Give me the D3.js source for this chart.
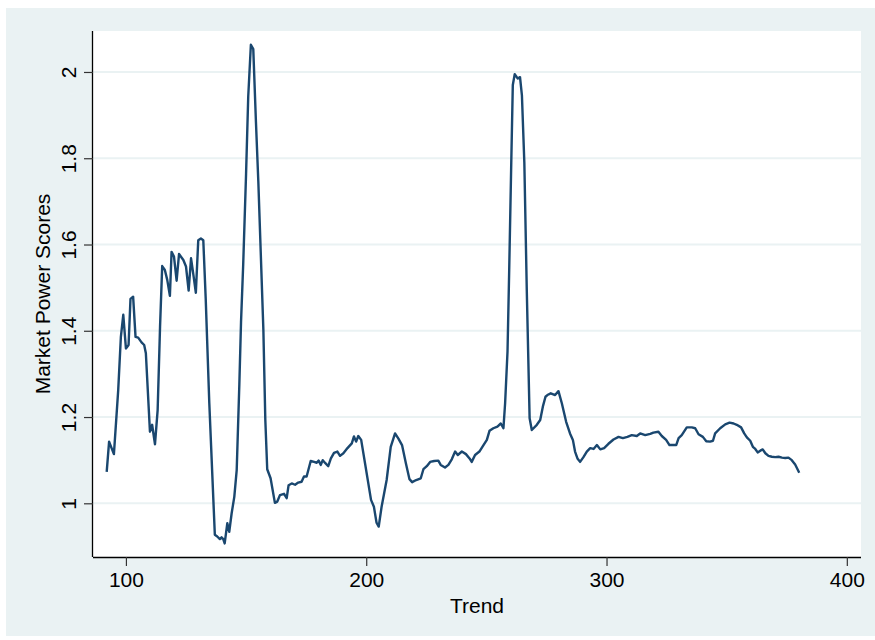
<!DOCTYPE html>
<html>
<head>
<meta charset="utf-8">
<script src="https://cdn.jsdelivr.net/npm/d3@7"></script>
<style>
  html, body { margin: 0; padding: 0; background: #ffffff; }
  svg { display: block; }
  text { font-family: "Liberation Sans", Arial, Helvetica, sans-serif; fill: #000; }
</style>
</head>
<body>
<svg id="chart" width="875" height="640"></svg>
<script>
// Trend values (x) and market power scores (y)
const trend = [
  92.0, 93.0, 95.0, 96.8, 97.9, 98.9, 100.0, 101.1, 101.9, 103.0,
  104.0, 105.1, 106.5, 107.6, 108.3, 110.0, 110.9, 112.1, 113.2, 114.2,
  115.1, 116.2, 117.2, 118.3, 119.0, 120.0, 121.1, 122.1, 123.9, 125.0,
  126.1, 127.1, 128.2, 129.1, 130.1, 131.2, 132.2, 133.2, 134.7, 137.0,
  138.0, 139.1, 139.8, 140.5, 141.1, 142.2, 143.0, 144.0, 145.1, 146.1,
  147.2, 147.9, 148.8, 150.0, 150.9, 152.0, 153.0, 154.1, 155.1, 157.2,
  158.0, 158.8, 160.2, 162.0, 163.0, 164.1, 165.8, 166.9, 167.7, 169.0,
  170.4, 171.7, 173.1, 174.1, 175.2, 176.9, 178.3, 179.4, 180.2, 181.1,
  181.9, 183.0, 184.2, 185.3, 186.6, 188.0, 189.1, 190.5, 192.2, 194.0,
  194.9, 195.8, 196.7, 197.9, 199.5, 202.0, 203.2, 204.3, 205.2, 206.4,
  208.5, 210.2, 212.0, 213.4, 214.9, 216.5, 218.0, 219.1, 220.8, 222.7,
  223.8, 225.2, 226.6, 228.3, 230.0, 231.0, 232.8, 234.2, 235.6, 237.0,
  238.1, 239.8, 241.5, 243.0, 243.9, 245.3, 247.1, 248.8, 250.2, 251.3,
  252.9, 254.6, 256.0, 257.1, 257.8, 258.8, 259.5, 260.3, 261.0, 261.8,
  263.0, 264.0, 264.8, 265.8, 266.8, 268.0, 268.9, 271.0, 272.4, 273.5,
  274.6, 275.4, 276.8, 278.6, 280.0, 281.4, 283.2, 284.8, 286.0, 286.9,
  287.9, 289.0, 290.4, 291.8, 293.2, 294.6, 296.0, 297.4, 299.0, 300.8,
  302.9, 305.0, 306.8, 308.7, 310.5, 312.6, 314.0, 316.1, 318.2, 319.5,
  321.6, 323.0, 324.8, 326.2, 327.2, 329.0, 330.0, 331.3, 333.4, 335.5,
  336.9, 338.3, 340.1, 341.5, 343.1, 344.3, 345.2, 347.3, 349.4, 351.2,
  352.9, 354.2, 356.0, 357.3, 358.4, 359.8, 360.9, 361.9, 362.9, 364.0,
  365.0, 366.1, 367.4, 368.8, 370.2, 371.6, 373.0, 374.4, 375.7, 377.1,
  378.5, 380.2
];
const score = [
  1.073, 1.143, 1.114, 1.263, 1.386, 1.437, 1.359, 1.367, 1.474, 1.479,
  1.386, 1.384, 1.373, 1.367, 1.348, 1.166, 1.182, 1.137, 1.216, 1.409,
  1.550, 1.541, 1.518, 1.481, 1.583, 1.572, 1.516, 1.578, 1.564, 1.549,
  1.493, 1.568, 1.525, 1.488, 1.610, 1.614, 1.610, 1.475, 1.232, 0.927,
  0.923, 0.917, 0.921, 0.917, 0.907, 0.954, 0.934, 0.977, 1.015, 1.077,
  1.276, 1.420, 1.553, 1.764, 1.943, 2.063, 2.053, 1.885, 1.746, 1.402,
  1.195, 1.079, 1.058, 1.001, 1.004, 1.019, 1.022, 1.012, 1.042, 1.046,
  1.043, 1.048, 1.050, 1.062, 1.062, 1.098, 1.096, 1.094, 1.099, 1.089,
  1.100, 1.093, 1.086, 1.104, 1.117, 1.120, 1.110, 1.116, 1.128, 1.139,
  1.155, 1.143, 1.156, 1.147, 1.093, 1.008, 0.992, 0.955, 0.946, 0.992,
  1.054, 1.131, 1.162, 1.150, 1.135, 1.093, 1.056, 1.049, 1.054, 1.058,
  1.079, 1.086, 1.096, 1.098, 1.099, 1.089, 1.083, 1.089, 1.102, 1.120,
  1.112, 1.120, 1.114, 1.104, 1.096, 1.112, 1.120, 1.135, 1.147, 1.168,
  1.174, 1.178, 1.185, 1.174, 1.232, 1.352, 1.541, 1.773, 1.970, 1.995,
  1.985, 1.988, 1.945, 1.790, 1.498, 1.197, 1.170, 1.182, 1.193, 1.224,
  1.247, 1.251, 1.255, 1.251, 1.260, 1.232, 1.189, 1.162, 1.147, 1.120,
  1.104, 1.096, 1.107, 1.120, 1.128, 1.126, 1.135, 1.125, 1.128, 1.138,
  1.148, 1.154, 1.151, 1.154, 1.158, 1.156, 1.162, 1.158, 1.161, 1.164,
  1.166, 1.156, 1.147, 1.135, 1.135, 1.135, 1.151, 1.158, 1.176, 1.176,
  1.174, 1.160, 1.154, 1.144, 1.143, 1.145, 1.162, 1.174, 1.183, 1.187,
  1.185, 1.182, 1.176, 1.162, 1.153, 1.145, 1.131, 1.126, 1.118, 1.122,
  1.125, 1.116, 1.110, 1.108, 1.107, 1.108, 1.106, 1.105, 1.106, 1.100,
  1.090, 1.071
];
const xTicks = [100, 200, 300, 400];
const yTicks = [1, 1.2, 1.4, 1.6, 1.8, 2];
const xTitle = "Trend";
const yTitle = "Market Power Scores";

const svg = d3.select("#chart");
const W = 875, H = 640;
const plot = { left: 93, right: 861, top: 31, bottom: 557 };

// Outer graph region
svg.append("rect").attr("x", 6).attr("y", 8).attr("width", W - 6).attr("height", H - 12)
  .attr("fill", "#eaf2f3");
// Plot region
svg.append("rect").attr("x", plot.left).attr("y", plot.top)
  .attr("width", plot.right - plot.left).attr("height", plot.bottom - plot.top)
  .attr("fill", "#ffffff");

const x = d3.scaleLinear().domain([86.3, 405.9]).range([plot.left, plot.right]);
const y = d3.scaleLinear().domain([0.8755, 2.095]).range([plot.bottom, plot.top]);

// Horizontal grid
svg.append("g").selectAll("line").data(yTicks).join("line")
  .attr("x1", plot.left).attr("x2", plot.right)
  .attr("y1", d => y(d)).attr("y2", d => y(d))
  .attr("stroke", "#eaf2f3").attr("stroke-width", 2);

// Series line
const pts = trend.map((t, i) => [t, score[i]]);
svg.append("path").datum(pts)
  .attr("fill", "none").attr("stroke", "#1a476f").attr("stroke-width", 2.4)
  .attr("stroke-linejoin", "round")
  .attr("d", d3.line().x(d => x(d[0])).y(d => y(d[1])));

// Axes
const fmtY = d => d3.format("~g")(d);
const xAxis = d3.axisBottom(x).tickValues(xTicks).tickSize(9).tickPadding(6).tickFormat(d3.format("d"));
const gx = svg.append("g").attr("transform", `translate(0,${plot.bottom})`).call(xAxis);
gx.select(".domain").attr("d", `M${plot.left},0.5H${plot.right}`).attr("stroke", "#000").attr("stroke-width", 1.3);
gx.selectAll(".tick line").attr("stroke", "#333").attr("stroke-width", 1.2);
gx.selectAll(".tick text").attr("font-size", 21).attr("font-family", "Liberation Sans, Arial, sans-serif").attr("fill", "#000");

const yAxis = d3.axisLeft(y).tickValues(yTicks).tickSize(9).tickFormat(fmtY);
const gy = svg.append("g").attr("transform", `translate(${plot.left},0)`).call(yAxis);
gy.select(".domain").attr("d", `M-0.5,${plot.top}V${plot.bottom}`).attr("stroke", "#000").attr("stroke-width", 1.3);
gy.selectAll(".tick line").attr("stroke", "#333").attr("stroke-width", 1.2);
gy.selectAll(".tick text")
  .attr("font-size", 21).attr("font-family", "Liberation Sans, Arial, sans-serif").attr("fill", "#000")
  .attr("x", null).attr("dy", null)
  .attr("text-anchor", "middle")
  .attr("transform", "translate(-17,0) rotate(-90)");

// Axis titles, centred on the plot region
svg.append("text").attr("x", (plot.left + plot.right) / 2).attr("y", 613)
  .attr("text-anchor", "middle").attr("font-size", 21).text(xTitle);
svg.append("text").attr("transform", `translate(50,${(plot.top + plot.bottom) / 2}) rotate(-90)`)
  .attr("text-anchor", "middle").attr("font-size", 21).text(yTitle);
</script>
</body>
</html>
